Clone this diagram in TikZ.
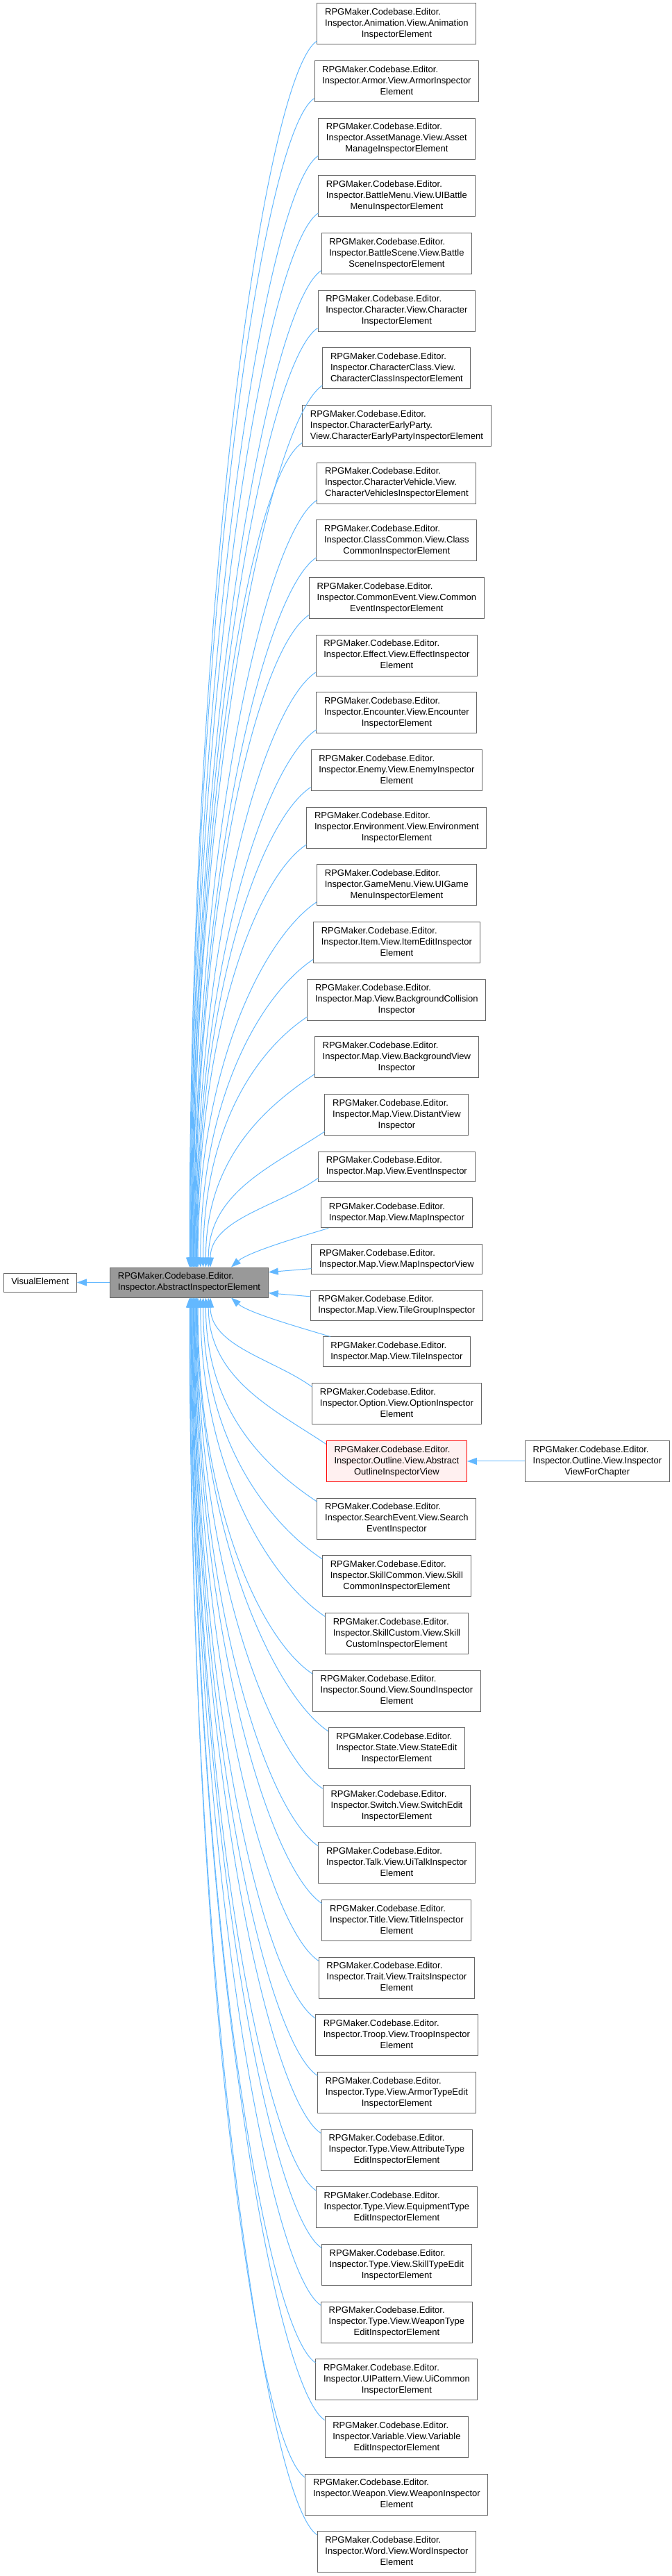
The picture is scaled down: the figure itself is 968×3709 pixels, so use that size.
\documentclass[tikz,border=0pt]{standalone}
\usepackage{fontspec}
\setmainfont{Liberation Sans}
\usetikzlibrary{arrows.meta}
\definecolor{edgeblue}{RGB}{99,184,255}
\definecolor{boxgray}{RGB}{102,102,102}
\definecolor{basegray}{RGB}{153,153,153}
\definecolor{hlred}{RGB}{255,0,0}
\definecolor{hlfill}{RGB}{255,240,240}
% class labels: all lines left, last line centred
\newcommand\clsthree[2]{\begin{tabular}{@{}l@{}}RPGMaker.Codebase.Editor.\\Inspector.#1\\\multicolumn{1}{@{}c@{}}{#2}\end{tabular}}
\newcommand\clstwo[1]{\begin{tabular}{@{}l@{}}RPGMaker.Codebase.Editor.\\Inspector.#1\end{tabular}}
\tikzset{
  >={Triangle[length=14pt,width=10pt]},
  cls/.style={draw=boxgray,fill=#1,line width=1pt,inner xsep=11.2pt,inner ysep=5.5pt,
    font=\fontsize{13}{16}\selectfont},
  cls/.default=white,
  inh/.style={->,draw=edgeblue,line width=1pt},
}
\begin{document}
\begin{tikzpicture}[x=1pt,y=-1pt]
  \useasboundingbox (0,0) rectangle (968,3709);
  \node[cls] (ve) at (57.7,1846.5) {\strut VisualElement};
  \node[cls=basegray] (main) at (272.5,1846.5) {\clstwo{AbstractInspectorElement}};
  % derived classes, one column
  \foreach \i/\a/\b [evaluate=\i as \y using 34.5+(\i-1)*82.65] in {
      1/Animation.View.Animation/InspectorElement,
      2/Armor.View.ArmorInspector/Element,
      3/AssetManage.View.Asset/ManageInspectorElement,
      4/BattleMenu.View.UIBattle/MenuInspectorElement,
      5/BattleScene.View.Battle/SceneInspectorElement,
      6/Character.View.Character/InspectorElement,
      7/CharacterClass.View./CharacterClassInspectorElement,
      8/CharacterEarlyParty./View.CharacterEarlyPartyInspectorElement,
      9/CharacterVehicle.View./CharacterVehiclesInspectorElement,
      10/ClassCommon.View.Class/CommonInspectorElement,
      11/CommonEvent.View.Common/EventInspectorElement,
      12/Effect.View.EffectInspector/Element,
      13/Encounter.View.Encounter/InspectorElement,
      14/Enemy.View.EnemyInspector/Element,
      15/Environment.View.Environment/InspectorElement,
      16/GameMenu.View.UIGame/MenuInspectorElement,
      17/Item.View.ItemEditInspector/Element,
      18/Map.View.BackgroundCollision/Inspector,
      19/Map.View.BackgroundView/Inspector,
      20/Map.View.DistantView/Inspector}
    \node[cls] (c\i) at (571.4,\y) {\clsthree{\a}{\b}};
  \foreach \i/\a [evaluate=\i as \y using 1679.65+(\i-21)*66.7] in {
      21/Map.View.EventInspector,
      22/Map.View.MapInspector,
      23/Map.View.MapInspectorView,
      24/Map.View.TileGroupInspector,
      25/Map.View.TileInspector}
    \node[cls] (c\i) at (571.4,\y) {\clstwo{\a}};
  \foreach \i/\a/\b [evaluate=\i as \y using 2103.9+(\i-27)*82.65] in {
      26/Option.View.OptionInspector/Element,
      28/SearchEvent.View.Search/EventInspector,
      29/SkillCommon.View.Skill/CommonInspectorElement,
      30/SkillCustom.View.Skill/CustomInspectorElement,
      31/Sound.View.SoundInspector/Element,
      32/State.View.StateEdit/InspectorElement,
      33/Switch.View.SwitchEdit/InspectorElement,
      34/Talk.View.UiTalkInspector/Element,
      35/Title.View.TitleInspector/Element,
      36/Trait.View.TraitsInspector/Element,
      37/Troop.View.TroopInspector/Element,
      38/Type.View.ArmorTypeEdit/InspectorElement,
      39/Type.View.AttributeType/EditInspectorElement,
      40/Type.View.EquipmentType/EditInspectorElement,
      41/Type.View.SkillTypeEdit/InspectorElement,
      42/Type.View.WeaponType/EditInspectorElement,
      43/UIPattern.View.UiCommon/InspectorElement,
      44/Variable.View.Variable/EditInspectorElement,
      45/Weapon.View.WeaponInspector/Element,
      46/Word.View.WordInspector/Element}
    \node[cls] (c\i) at (571.4,\y) {\clsthree{\a}{\b}};
  \node[cls=hlfill,draw=hlred] (c27) at (571.4,2103.9) {\clsthree{Outline.View.Abstract}{OutlineInspectorView}};
  \node[cls] (c47) at (860.4,2103.9) {\clsthree{Outline.View.Inspector}{ViewForChapter}};
  % inheritance arrows
  \draw[inh] (main.west) -- (ve.east);
  \draw[inh] (c47.west) -- (c27.east);
  \foreach \i [evaluate=\i as \dist using {1825-(34.5+(\i-1)*82.65+24)},
               evaluate=\i as \dx using {0.5+(\i-1)*0.8+3*max(0,\i-16)}] in {1,...,20}
    \draw[inh] ([yshift=5.5pt]c\i.south west) .. controls +(-75,50) and +(0,-0.55*\dist) .. ([xshift=\dx pt]main.north);
  \draw[inh] ([yshift=5.5pt]c21.south west) .. controls +(-55,40) and +(0,-70) .. ([xshift=30.5pt]main.north);
  \draw[inh] ([xshift=11pt]c22.south west) .. controls +(-40,12) and +(25,-22) .. ([xshift=60.5pt]main.north);
  \draw[inh] ([yshift=-13.6pt]c23.west) -- ([yshift=14.8pt]main.east);
  \draw[inh] ([yshift=13pt]c24.west) -- ([yshift=-15.2pt]main.east);
  \draw[inh] ([xshift=11pt]c25.north west) .. controls +(-40,-12) and +(25,22) .. ([xshift=60.5pt]main.south);
  \draw[inh] ([yshift=-5.5pt]c26.north west) .. controls +(-55,-40) and +(0,70) .. ([xshift=30.5pt]main.south);
  \foreach \i [evaluate=\i as \dist using {2103.9+(\i-27)*82.65-24-1868},
               evaluate=\i as \dx using {0.5+(46-\i)*0.8+3*max(0,31-\i)}] in {27,...,46}
    \draw[inh] ([yshift=-5.5pt]c\i.north west) .. controls +(-75,-50) and +(0,0.55*\dist) .. ([xshift=\dx pt]main.south);
\end{tikzpicture}
\end{document}
